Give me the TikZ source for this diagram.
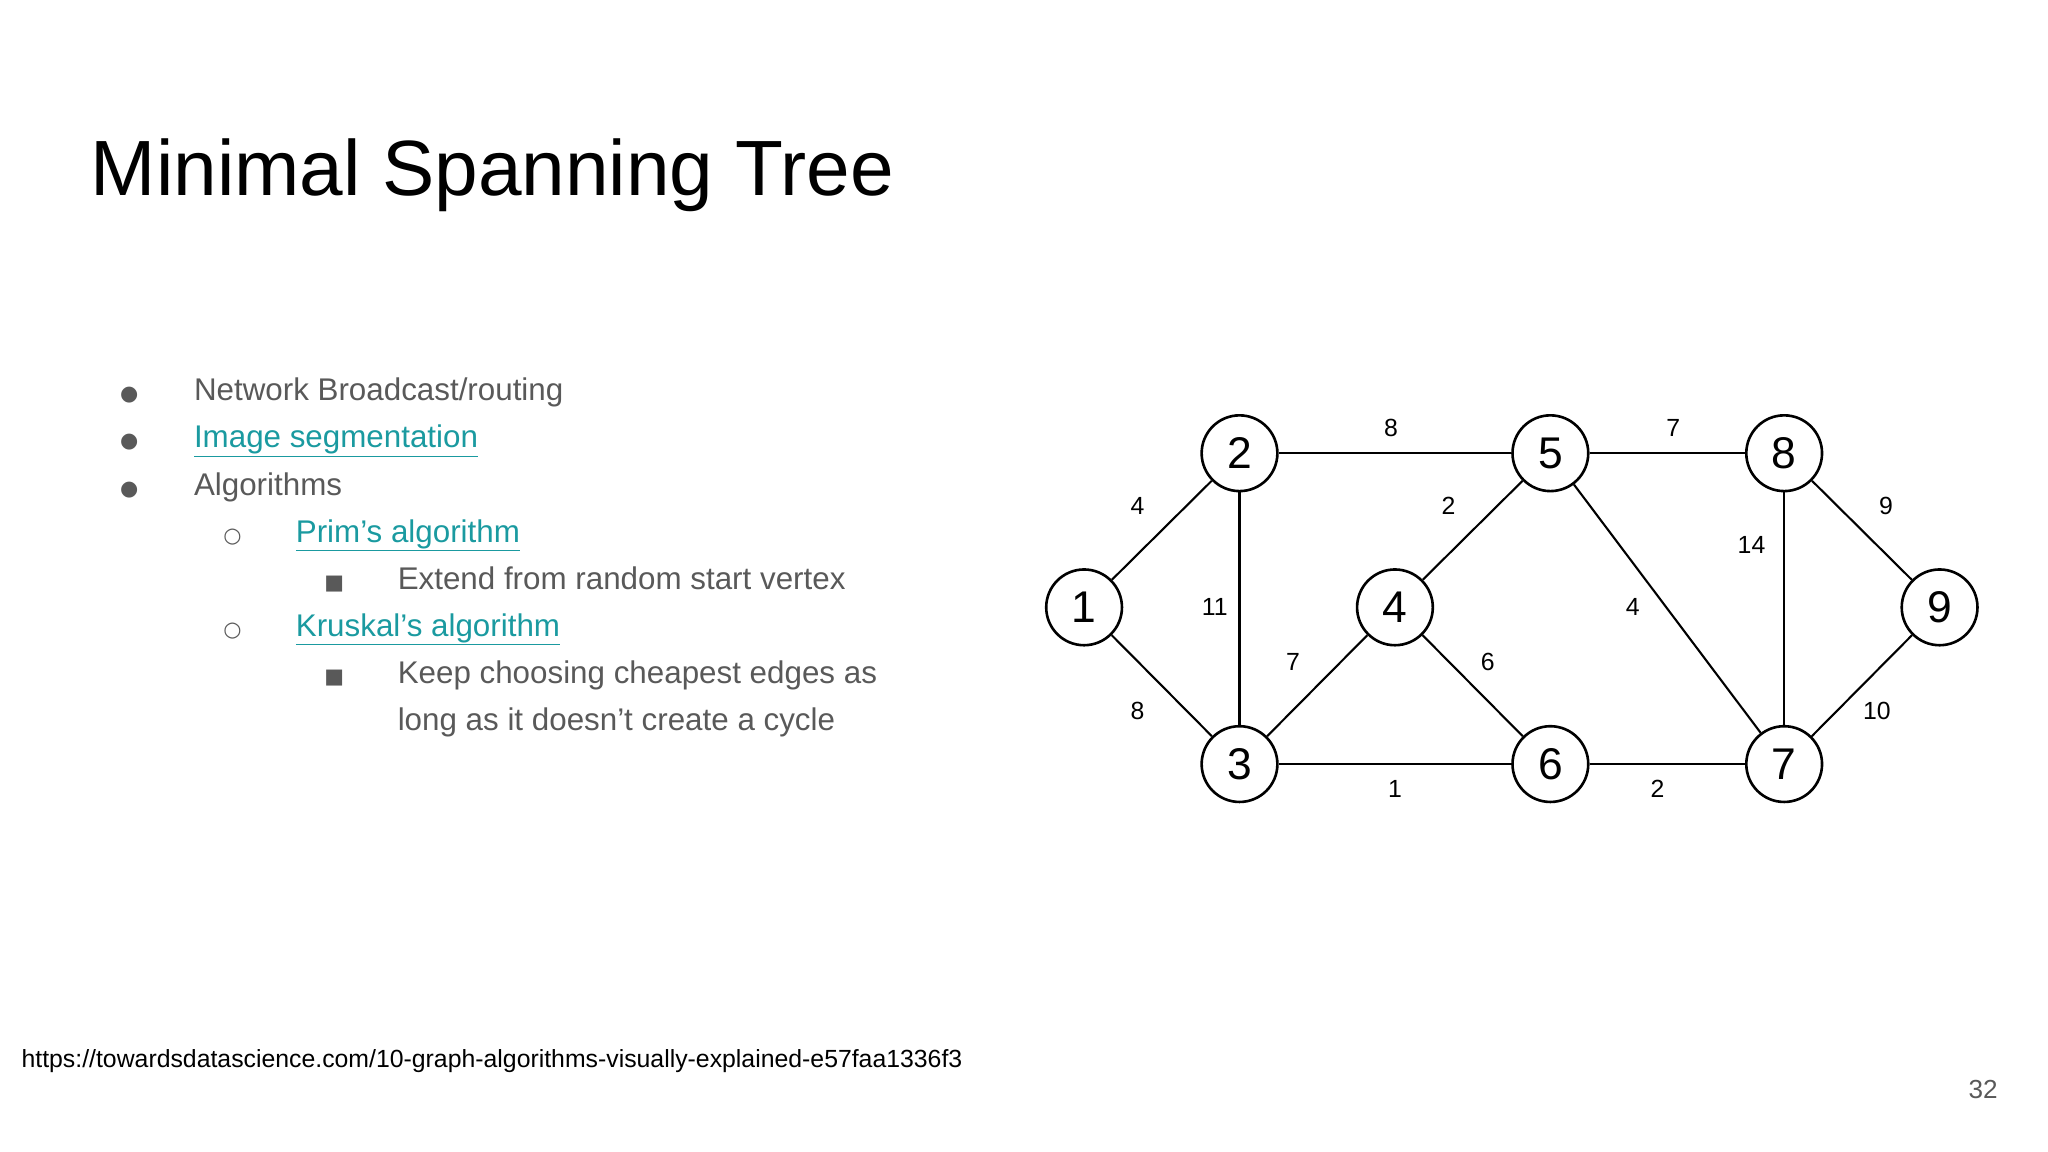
\documentclass[tikz,border=0pt]{standalone}
\usepackage{fontspec}
\setmainfont{Liberation Sans}
\newfontfamily\symf{DejaVu Sans}
\definecolor{txt}{HTML}{595959}
\definecolor{lnk}{HTML}{1A9AA0}
\begin{document}
\begin{tikzpicture}[x=1pt,y=-1pt,
  v/.style={circle,draw,line width=2pt,minimum size=58pt,inner sep=0pt,font=\fontsize{34}{34}\selectfont},
  e/.style={line width=1.6pt},
  w/.style={font=\fontsize{19}{19}\selectfont},
  body/.style={anchor=base west,text=txt,font=\fontsize{24}{28}\selectfont},
  bul/.style={anchor=base,text=txt,font=\fontsize{16}{16}\symf}]
\useasboundingbox (0,0) rectangle (1568,882);
\node[anchor=base west,font=\fontsize{60}{60}\selectfont] (title) at (66,150) {Minimal Spanning Tree};
\node[bul] (b1) at (99,307) {●};
\node[bul] (b2) at (99,343) {●};
\node[bul] (b3) at (99,379) {●};
\node[bul] (b4) at (178,415) {○};
\node[bul] (b5) at (256,451) {■};
\node[bul] (b6) at (178,487) {○};
\node[bul] (b7) at (256,523) {■};
\node[body] (t1) at (145,307) {Network Broadcast/routing};
\node[body,text=lnk] (t2) at (145,343) {\underline{Image segmentation}};
\node[body] (t3) at (145,379) {Algorithms};
\node[body,text=lnk] (t4) at (223,415) {\underline{Prim’s algorithm}};
\node[body] (t5) at (301,451) {Extend from random start vertex};
\node[body,text=lnk] (t6) at (223,487) {\underline{Kruskal’s algorithm}};
\node[body] (t7) at (301,523) {Keep choosing cheapest edges as};
\node[body] (t8) at (301,559) {long as it doesn’t create a cycle};
\node[anchor=base west,font=\fontsize{19}{19}\selectfont] (url) at (13,817) {https://towardsdatascience.com/10-graph-algorithms-visually-explained-e57faa1336f3};
\node[anchor=base east,text=txt,font=\fontsize{20}{20}\selectfont] (pg) at (1533,841) {32};
\node[v] (n1) at (830,465) {1};
\node[v] (n2) at (949,347) {2};
\node[v] (n3) at (949,585) {3};
\node[v] (n4) at (1068,465) {4};
\node[v] (n5) at (1187,347) {5};
\node[v] (n6) at (1187,585) {6};
\node[v] (n7) at (1366,585) {7};
\node[v] (n8) at (1366,347) {8};
\node[v] (n9) at (1485,465) {9};
\draw[e] (n1)--(n2); \draw[e] (n2)--(n5); \draw[e] (n5)--(n8); \draw[e] (n8)--(n9);
\draw[e] (n1)--(n3); \draw[e] (n2)--(n3); \draw[e] (n3)--(n4); \draw[e] (n4)--(n5);
\draw[e] (n4)--(n6); \draw[e] (n5)--(n7); \draw[e] (n8)--(n7); \draw[e] (n9)--(n7);
\draw[e] (n3)--(n6); \draw[e] (n6)--(n7);
\node[w] (l1) at (871,387) {4};
\node[w] (l2) at (1065,328) {8};
\node[w] (l3) at (1281,328) {7};
\node[w] (l4) at (1444,387) {9};
\node[w] (l5) at (871,544) {8};
\node[w] (l6) at (930,465) {11};
\node[w] (l7) at (990,507) {7};
\node[w] (l8) at (1109,387) {2};
\node[w] (l9) at (1139,507) {6};
\node[w] (l10) at (1250,465) {4};
\node[w] (l11) at (1341,417) {14};
\node[w] (l12) at (1437,544) {10};
\node[w] (l13) at (1068,604) {1};
\node[w] (l14) at (1269,604) {2};
\end{tikzpicture}
\end{document}
